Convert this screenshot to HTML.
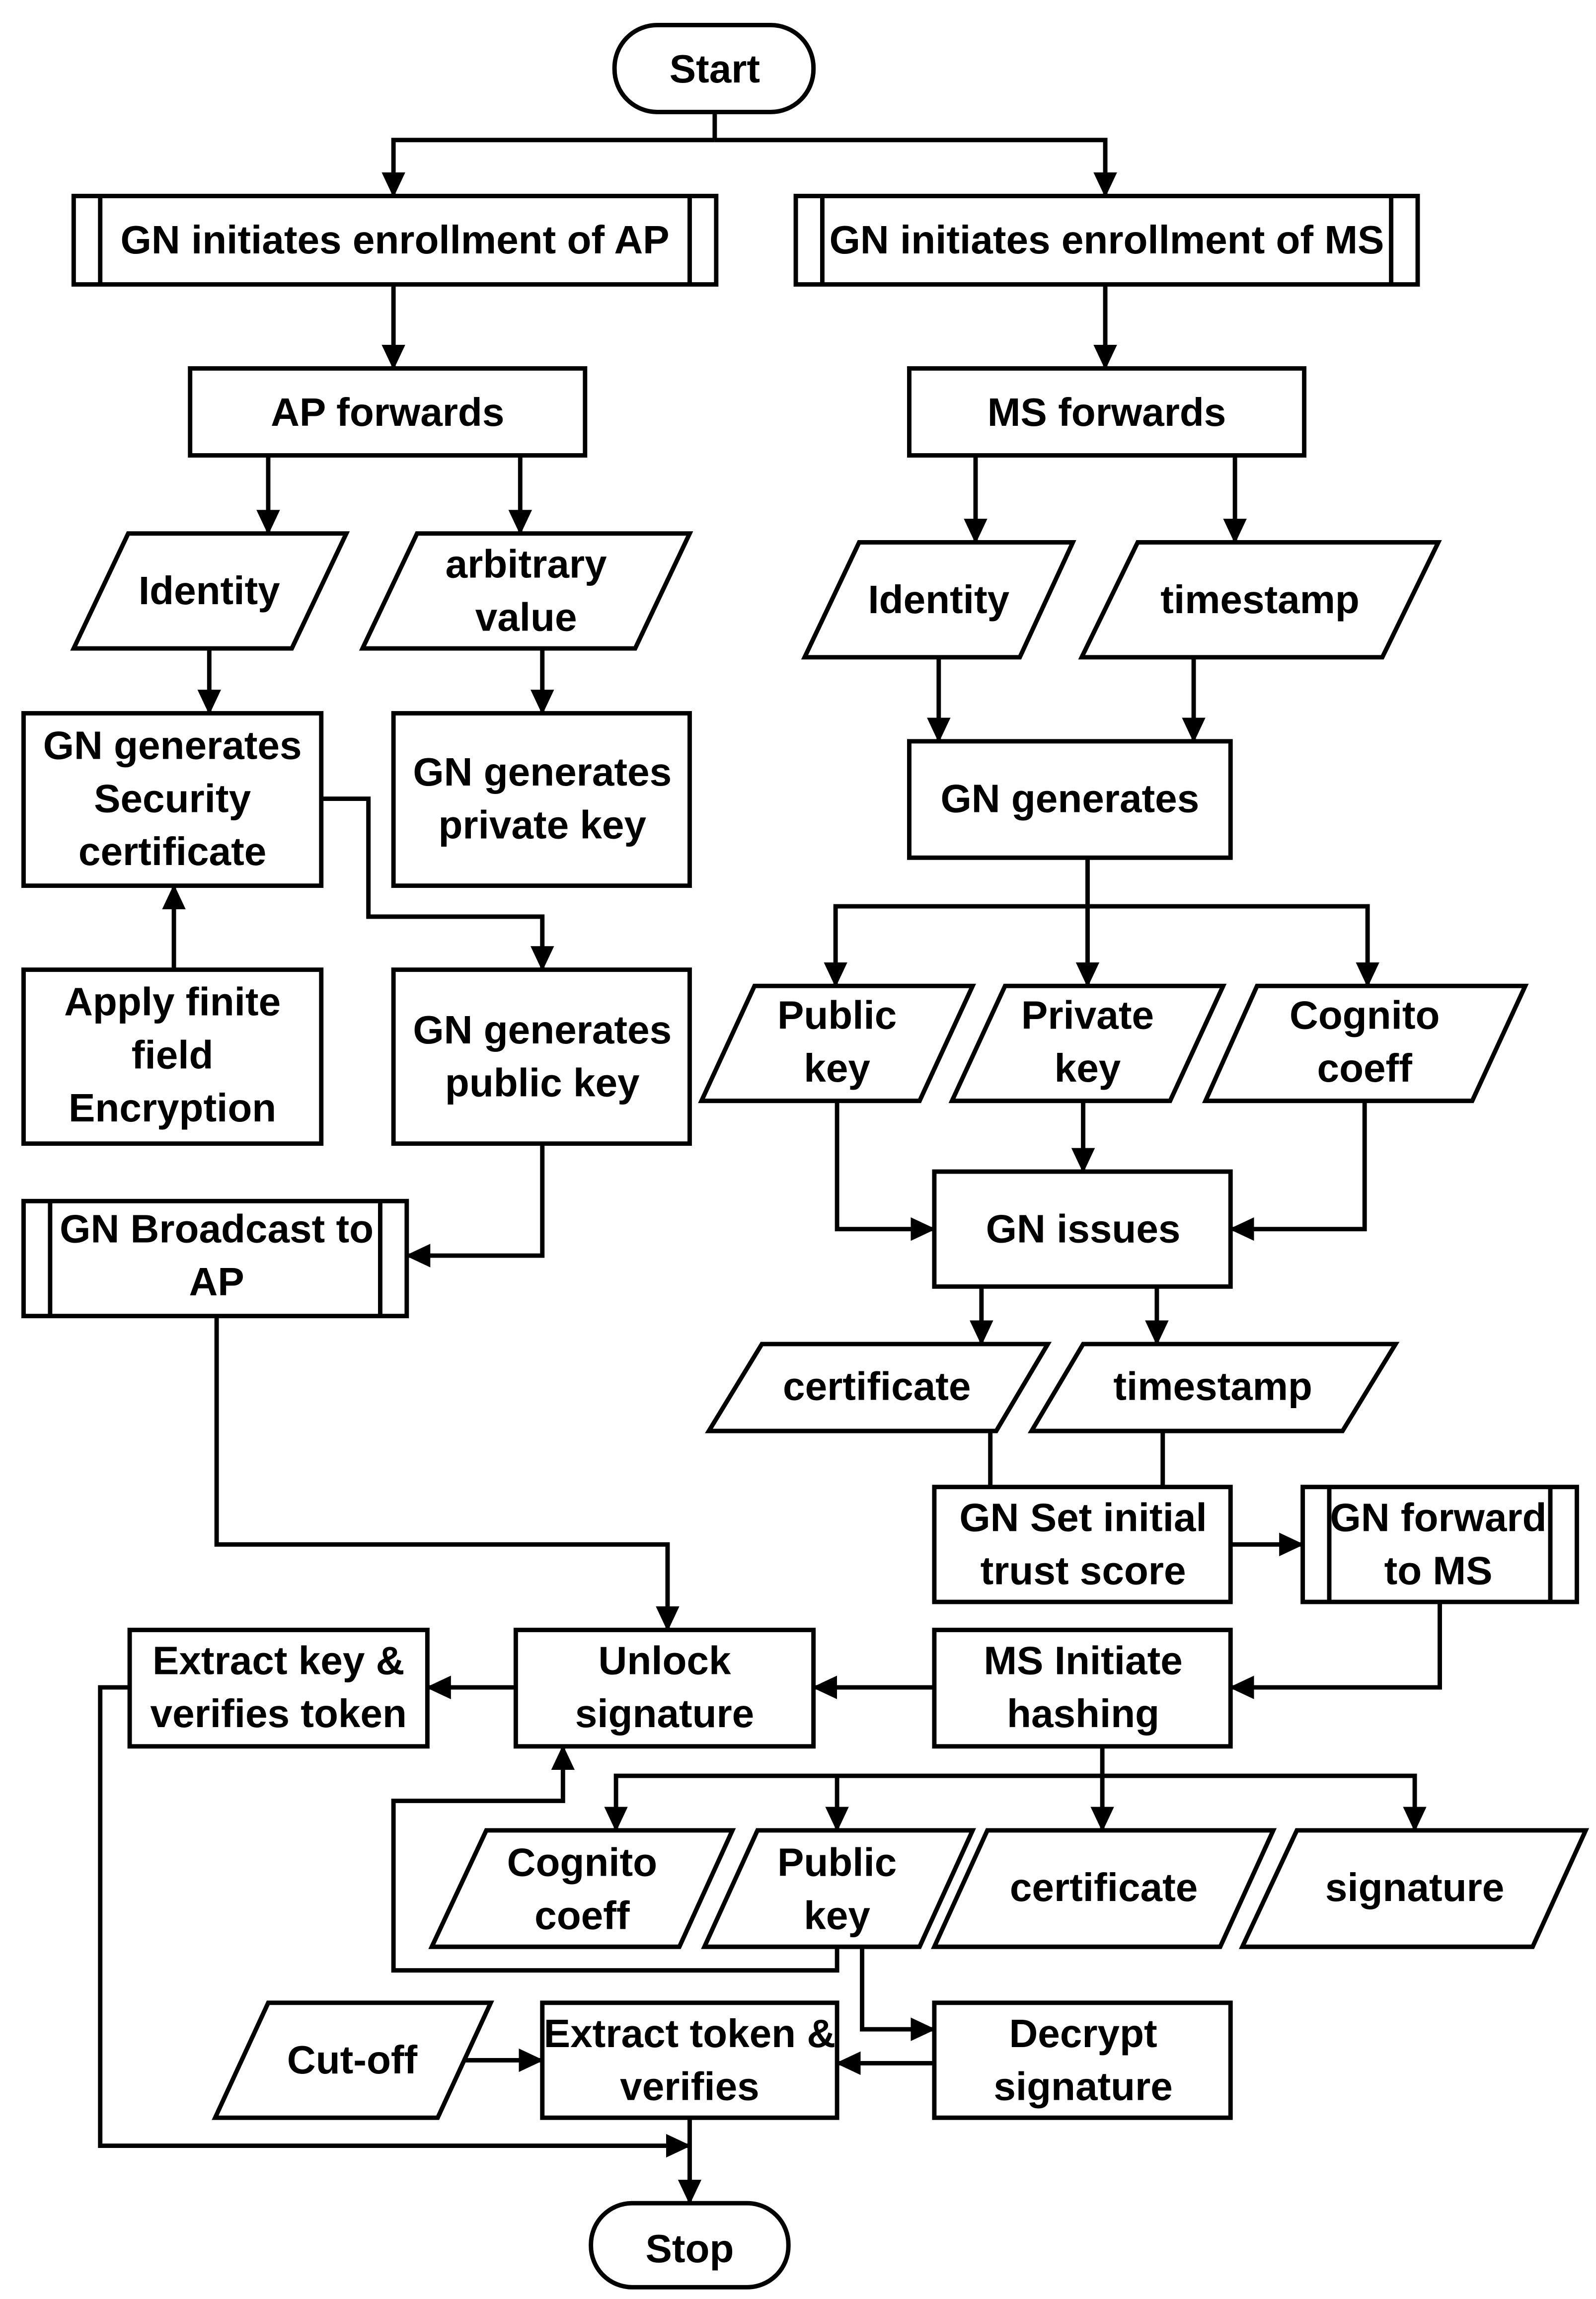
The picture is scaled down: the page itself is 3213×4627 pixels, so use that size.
<!DOCTYPE html>
<html><head><meta charset="utf-8"><style>html,body{margin:0;padding:0;background:#fff}svg{display:block}</style></head>
<body>
<svg xmlns="http://www.w3.org/2000/svg" width="3213" height="4627" viewBox="0 0 1083 1560" preserveAspectRatio="none">
<defs>
<marker id="a" markerUnits="userSpaceOnUse" markerWidth="18" markerHeight="16" refX="16" refY="8" orient="auto">
<path d="M0,0 L17,8 L0,16 Z" fill="#000"/>
</marker>
</defs>
<g fill="#fff" stroke="#000" stroke-width="3">
<rect x="417" y="17" width="135" height="59" rx="29"/>
<rect x="401" y="1495" width="134" height="57" rx="28"/>
<rect x="50" y="133" width="436" height="60"/><line x1="68" y1="133" x2="68" y2="193"/><line x1="468" y1="133" x2="468" y2="193"/>
<rect x="540" y="133" width="422" height="60"/><line x1="558" y1="133" x2="558" y2="193"/><line x1="944" y1="133" x2="944" y2="193"/>
<rect x="129" y="250" width="268" height="59"/>
<rect x="617" y="250" width="268" height="59"/>
<polygon points="87,362 235,362 198,440 50,440"/>
<polygon points="283,362 468,362 431,440 246,440"/>
<polygon points="583,368 728,368 692,446 546,446"/>
<polygon points="772,368 976,368 938,446 734,446"/>
<rect x="16" y="484" width="202" height="117"/>
<rect x="267" y="484" width="201" height="117"/>
<rect x="16" y="658" width="202" height="118"/>
<rect x="267" y="658" width="201" height="118"/>
<rect x="16" y="815" width="260" height="78"/><line x1="34" y1="815" x2="34" y2="893"/><line x1="258" y1="815" x2="258" y2="893"/>
<rect x="617" y="503" width="218" height="79"/>
<polygon points="512,669 660,669 624,747 476,747"/>
<polygon points="682,669 830,669 794,747 646,747"/>
<polygon points="853,669 1035,669 999,747 818,747"/>
<rect x="634" y="795" width="201" height="78"/>
<polygon points="517,912 711,912 676,971 481,971"/>
<polygon points="735,912 947,912 911,971 700,971"/>
<rect x="634" y="1009" width="201" height="78"/>
<rect x="884" y="1009" width="186" height="78"/><line x1="902" y1="1009" x2="902" y2="1087"/><line x1="1052" y1="1009" x2="1052" y2="1087"/>
<rect x="634" y="1106" width="201" height="79"/>
<rect x="350" y="1106" width="202" height="79"/>
<rect x="88" y="1106" width="202" height="79"/>
<polygon points="330,1242 497,1242 461,1321 293,1321"/>
<polygon points="514,1242 660,1242 624,1321 478,1321"/>
<polygon points="670,1242 864,1242 828,1321 634,1321"/>
<polygon points="880,1242 1076,1242 1040,1321 843,1321"/>
<rect x="634" y="1359" width="201" height="78"/>
<rect x="368" y="1359" width="200" height="78"/>
<polygon points="182,1359 333,1359 297,1437 146,1437"/>
</g>
<g fill="none" stroke="#000" stroke-width="3">
<polyline points="485,76 485,95"/>
<polyline points="485,95 267,95 267,133" marker-end="url(#a)"/>
<polyline points="485,95 750,95 750,133" marker-end="url(#a)"/>
<line x1="267" y1="193" x2="267" y2="250" marker-end="url(#a)"/>
<line x1="750" y1="193" x2="750" y2="250" marker-end="url(#a)"/>
<line x1="182" y1="309" x2="182" y2="362" marker-end="url(#a)"/>
<line x1="353" y1="309" x2="353" y2="362" marker-end="url(#a)"/>
<line x1="662" y1="309" x2="662" y2="368" marker-end="url(#a)"/>
<line x1="838" y1="309" x2="838" y2="368" marker-end="url(#a)"/>
<line x1="142" y1="440" x2="142" y2="484" marker-end="url(#a)"/>
<line x1="368" y1="440" x2="368" y2="484" marker-end="url(#a)"/>
<line x1="118" y1="658" x2="118" y2="601" marker-end="url(#a)"/>
<polyline points="218,542 250,542 250,622 368,622 368,658" marker-end="url(#a)"/>
<polyline points="368,776 368,852 276,852" marker-end="url(#a)"/>
<polyline points="147,893 147,1048 453,1048 453,1106" marker-end="url(#a)"/>
<line x1="637" y1="446" x2="637" y2="503" marker-end="url(#a)"/>
<line x1="810" y1="446" x2="810" y2="503" marker-end="url(#a)"/>
<polyline points="738,582 738,615"/>
<polyline points="738,615 567,615 567,669" marker-end="url(#a)"/>
<line x1="738" y1="615" x2="738" y2="669" marker-end="url(#a)"/>
<polyline points="738,615 928,615 928,669" marker-end="url(#a)"/>
<line x1="735" y1="747" x2="735" y2="795" marker-end="url(#a)"/>
<polyline points="568,747 568,834 634,834" marker-end="url(#a)"/>
<polyline points="926,747 926,834 835,834" marker-end="url(#a)"/>
<line x1="666" y1="873" x2="666" y2="912" marker-end="url(#a)"/>
<line x1="785" y1="873" x2="785" y2="912" marker-end="url(#a)"/>
<line x1="672" y1="971" x2="672" y2="1009"/>
<line x1="789" y1="971" x2="789" y2="1009"/>
<line x1="835" y1="1048" x2="884" y2="1048" marker-end="url(#a)"/>
<polyline points="977,1087 977,1145 835,1145" marker-end="url(#a)"/>
<line x1="634" y1="1145" x2="552" y2="1145" marker-end="url(#a)"/>
<line x1="350" y1="1145" x2="290" y2="1145" marker-end="url(#a)"/>
<polyline points="88,1145 68,1145 68,1456 468,1456" marker-end="url(#a)"/>
<polyline points="748,1185 748,1205"/>
<polyline points="748,1205 418,1205 418,1242" marker-end="url(#a)"/>
<line x1="568" y1="1205" x2="568" y2="1242" marker-end="url(#a)"/>
<line x1="748" y1="1205" x2="748" y2="1242" marker-end="url(#a)"/>
<polyline points="748,1205 960,1205 960,1242" marker-end="url(#a)"/>
<polyline points="568,1321 568,1337 267,1337 267,1222 382,1222 382,1185" marker-end="url(#a)"/>
<polyline points="585,1321 585,1377 634,1377" marker-end="url(#a)"/>
<line x1="634" y1="1400" x2="568" y2="1400" marker-end="url(#a)"/>
<line x1="315" y1="1398" x2="368" y2="1398" marker-end="url(#a)"/>
<line x1="468" y1="1437" x2="468" y2="1495" marker-end="url(#a)"/>
</g>
<g font-family="Liberation Sans, Arial, sans-serif" font-weight="bold" font-size="27" text-anchor="middle" fill="#000">
<text x="485" y="56">Start</text>
<text x="468" y="1535">Stop</text>
<text x="268" y="172">GN initiates enrollment of AP</text>
<text x="751" y="172">GN initiates enrollment of MS</text>
<text x="263" y="289">AP forwards</text>
<text x="751" y="289">MS forwards</text>
<text x="142" y="410">Identity</text>
<text x="357" y="392">arbitrary</text><text x="357" y="428">value</text>
<text x="637" y="416">Identity</text>
<text x="855" y="416">timestamp</text>
<text x="117" y="515">GN generates</text><text x="117" y="551">Security</text><text x="117" y="587">certificate</text>
<text x="368" y="533">GN generates</text><text x="368" y="569">private key</text>
<text x="117" y="689">Apply finite</text><text x="117" y="725">field</text><text x="117" y="761">Encryption</text>
<text x="368" y="708">GN generates</text><text x="368" y="744">public key</text>
<text x="147" y="843">GN Broadcast to</text><text x="147" y="879">AP</text>
<text x="726" y="551">GN generates</text>
<text x="568" y="698">Public</text><text x="568" y="734">key</text>
<text x="738" y="698">Private</text><text x="738" y="734">key</text>
<text x="926" y="698">Cognito</text><text x="926" y="734">coeff</text>
<text x="735" y="843">GN issues</text>
<text x="595" y="950">certificate</text>
<text x="823" y="950">timestamp</text>
<text x="735" y="1039">GN Set initial</text><text x="735" y="1075">trust score</text>
<text x="976" y="1039">GN forward</text><text x="976" y="1075">to MS</text>
<text x="735" y="1136">MS Initiate</text><text x="735" y="1172">hashing</text>
<text x="451" y="1136">Unlock</text><text x="451" y="1172">signature</text>
<text x="189" y="1136">Extract key &amp;</text><text x="189" y="1172">verifies token</text>
<text x="395" y="1273">Cognito</text><text x="395" y="1309">coeff</text>
<text x="568" y="1273">Public</text><text x="568" y="1309">key</text>
<text x="749" y="1290">certificate</text>
<text x="960" y="1290">signature</text>
<text x="735" y="1389">Decrypt</text><text x="735" y="1425">signature</text>
<text x="468" y="1389">Extract token &amp;</text><text x="468" y="1425">verifies</text>
<text x="239" y="1407">Cut-off</text>
</g>
</svg>
</body></html>
